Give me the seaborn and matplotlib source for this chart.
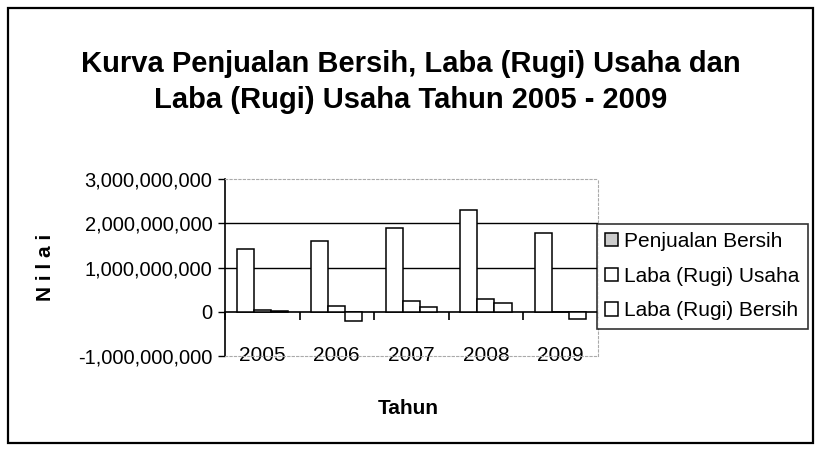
import numpy as np
import pandas as pd
import seaborn as sns
import matplotlib.pyplot as plt
from matplotlib.patches import Rectangle
from matplotlib.ticker import FuncFormatter, FixedLocator

sns.set_theme(style="white")
plt.rcParams['font.family'] = ['Liberation Sans Narrow', 'Liberation Sans', 'DejaVu Sans']
plt.rcParams['text.color'] = 'black'
plt.rcParams['axes.labelcolor'] = 'black'
plt.rcParams['xtick.color'] = 'black'
plt.rcParams['ytick.color'] = 'black'

tahun = ['2005', '2006', '2007', '2008', '2009']
penjualan_bersih = [1415e6, 1610e6, 1900e6, 2300e6, 1780e6]
laba_usaha = [40e6, 135e6, 240e6, 290e6, 0]
laba_bersih = [10e6, -200e6, 100e6, 200e6, -165e6]
seri = ['Penjualan Bersih', 'Laba (Rugi) Usaha', 'Laba (Rugi) Bersih']

df = pd.DataFrame({'Tahun': tahun * 3,
                   'Nilai': penjualan_bersih + laba_usaha + laba_bersih,
                   'Seri': [s for s in seri for _ in tahun]})

fig = plt.figure(figsize=(8.21, 4.5), dpi=100)
ax = fig.add_axes([0.274, 0.209, 0.454, 0.393])

sns.barplot(data=df, x='Tahun', y='Nilai', hue='Seri', ax=ax,
            palette=['white', 'white', 'white'], edgecolor='black', linewidth=1.1,
            width=0.69, gap=0, legend=True)

ax.set_ylim(-1e9, 3e9)
ax.set_xlim(-0.5, 4.5)
ax.set_yticks([-1e9, 0, 1e9, 2e9, 3e9])
ax.yaxis.set_major_formatter(FuncFormatter(lambda v, p: f'{v:,.0f}'))
ax.tick_params(axis='y', left=True, length=5, width=1, color='black', labelsize=14.5, pad=4)
ax.set_ylabel('')
ax.set_xlabel('')

# grid lines only at 1e9 and 2e9
ax.yaxis.grid(True, color='black', linewidth=1)
for val, gl in zip(ax.get_yticks(), ax.yaxis.get_gridlines()):
    if val not in (1e9, 2e9):
        gl.set_visible(False)

# year labels at bottom inside plot area
ax.tick_params(axis='x', bottom=False, labelsize=15, pad=-13)

for s in ['top', 'right', 'bottom']:
    ax.spines[s].set_color('#aaaaaa')
    ax.spines[s].set_linestyle((0, (2, 2)))
    ax.spines[s].set_linewidth(0.8)
ax.spines['left'].set_color('black')
ax.spines['left'].set_linewidth(1.2)

# zero axis with category-boundary ticks
sec = ax.secondary_xaxis(0.25)
sec.xaxis.set_major_locator(FixedLocator(np.arange(-0.5, 5, 1)))
sec.tick_params(axis='x', length=6, width=1.2, color='black', labelbottom=False, direction='out')
sec.spines['bottom'].set_color('black')
sec.spines['bottom'].set_linewidth(1.2)

handles, labels = ax.get_legend_handles_labels()
ax.get_legend().remove()
handles[0].set_facecolor('#cccccc')
leg = fig.legend(handles, labels, loc='upper left', bbox_to_anchor=(0.727, 0.503),
                 frameon=True, fancybox=False, edgecolor='black', fontsize=15,
                 handlelength=0.6, handleheight=0.6, handletextpad=0.3,
                 labelspacing=0.75, borderpad=0.4, borderaxespad=0)
leg.get_frame().set_linewidth(1.2)

fig.text(0.5, 0.818, 'Kurva Penjualan Bersih, Laba (Rugi) Usaha dan\nLaba (Rugi) Usaha Tahun 2005 - 2009',
         ha='center', va='center', fontsize=21, fontweight='bold', linespacing=1.4)
fig.text(0.056, 0.405, 'N i l a i', rotation=90, ha='center', va='center',
         fontsize=15, fontweight='bold')
fig.text(0.497, 0.093, 'Tahun', ha='center', va='center', fontsize=15, fontweight='bold')

fig.patches.append(Rectangle((0.01, 0.015), 0.98, 0.968, transform=fig.transFigure,
                             fill=False, edgecolor='black', linewidth=1.6))

fig.savefig('out.png', dpi=100)
